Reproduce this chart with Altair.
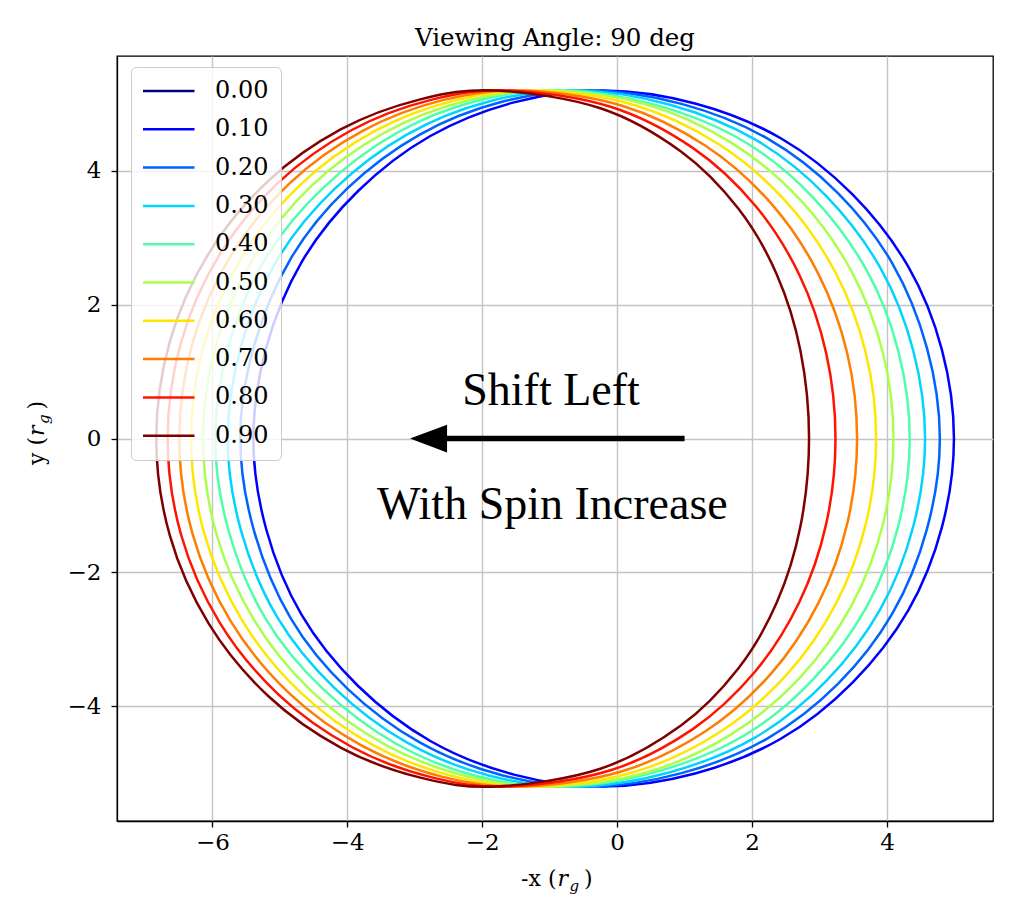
import altair as alt
import pandas as pd

# ---- legend / colour data ----
legend_spins = ["0.00", "0.10", "0.20", "0.30", "0.40", "0.50", "0.60", "0.70", "0.80", "0.90"]
jet_colors = ["#000080", "#0000ff", "#0063ff", "#00d4ff", "#4dffaa",
              "#aaff4d", "#ffe600", "#ff7d00", "#ff1400", "#800000"]

# ---- shadow contours: upper half, from right edge (y=0) over the top to left edge (y=0) ----
x_a010 = [4.993, 4.316, 2.426, -0.200, -2.769, -4.679, -5.393]
y_a010 = [0.0, 2.565, 4.483, 5.196, 4.516, 2.631, 0.0]
x_a020 = [4.784, 4.081, 2.225, -0.400, -2.926, -4.836, -5.586]
y_a020 = [0.0, 2.612, 4.481, 5.196, 4.538, 2.690, 0.0]
x_a030 = [4.565, 3.898, 2.056, -0.600, -3.112, -5.043, -5.773]
y_a030 = [0.0, 2.555, 4.458, 5.196, 4.542, 2.661, 0.0]
x_a040 = [4.338, 3.694, 1.876, -0.800, -3.282, -5.223, -5.958]
y_a040 = [0.0, 2.520, 4.438, 5.196, 4.554, 2.671, 0.0]
x_a050 = [4.096, 3.939, 3.474, 2.716, 1.690, 0.433, -1.000, -2.236, -3.446, -4.531, -5.392, -5.947, -6.138]
y_a050 = [0.0, 1.285, 2.496, 3.563, 4.418, 4.988, 5.196, 5.043, 4.568, 3.773, 2.694, 1.404, 0.0]
x_a060 = [3.839, 3.687, 3.238, 2.504, 1.501, 0.251, -1.200, -2.412, -3.610, -4.694, -5.561, -6.122, -6.316]
y_a060 = [0.0, 1.275, 2.476, 3.538, 4.397, 4.980, 5.196, 5.047, 4.581, 3.791, 2.712, 1.414, 0.0]
x_a070 = [3.557, 3.412, 2.983, 2.282, 1.310, 0.073, -1.400, -2.586, -3.772, -4.855, -5.727, -6.293, -6.491]
y_a070 = [0.0, 1.268, 2.458, 3.511, 4.372, 4.969, 5.196, 5.052, 4.593, 3.810, 2.731, 1.428, 0.0]
x_a080 = [3.237, 3.100, 2.700, 2.046, 1.121, -0.098, -1.600, -2.759, -3.933, -5.015, -5.892, -6.464, -6.663]
y_a080 = [0.0, 1.271, 2.446, 3.479, 4.339, 4.954, 5.196, 5.056, 4.606, 3.828, 2.748, 1.437, 0.0]
x_a090 = [2.845, 2.719, 2.368, 1.796, 0.946, -0.248, -1.800, -2.931, -4.092, -5.173, -6.054, -6.631, -6.832]
y_a090 = [0.0, 1.304, 2.446, 3.433, 4.285, 4.930, 5.196, 5.060, 4.618, 3.845, 2.765, 1.447, 0.0]

x_ticks = [-6, -4, -2, 0, 2, 4]
y_ticks = [-4, -2, 0, 2, 4]

# annotation arrow (data units)
arrow_tail_x = [1.0]
arrow_shaft_end_x = [-2.6]
arrow_tip_x = [-3.07]
arrow_y = [0.0]

series = [("0.10", x_a010, y_a010), ("0.20", x_a020, y_a020), ("0.30", x_a030, y_a030),
          ("0.40", x_a040, y_a040), ("0.50", x_a050, y_a050), ("0.60", x_a060, y_a060),
          ("0.70", x_a070, y_a070), ("0.80", x_a080, y_a080), ("0.90", x_a090, y_a090)]

rows = []
for spin, xs, ys in series:
    n = len(xs)
    for i in range(n):
        rows.append({"spin": spin, "k": i, "x": xs[i], "y": ys[i]})
    # mirrored lower half (the contour is symmetric about y = 0)
    for j, i in enumerate(range(n - 2, 0, -1)):
        rows.append({"spin": spin, "k": n + j, "x": xs[i], "y": -ys[i]})
df = pd.DataFrame(rows)

xscale = alt.Scale(domain=[-7.414, 5.572], nice=False, zero=False)
yscale = alt.Scale(domain=[-5.711, 5.711], nice=False, zero=False)

lines = alt.Chart(df).mark_line(interpolate="cardinal-closed", strokeWidth=2.5).encode(
    x=alt.X("x:Q", scale=xscale, axis=alt.Axis(values=x_ticks, format="d", title=None, grid=True)),
    y=alt.Y("y:Q", scale=yscale, axis=alt.Axis(values=y_ticks, format="d", title=None, grid=True)),
    color=alt.Color(
        "spin:N",
        scale=alt.Scale(domain=legend_spins, range=jet_colors),
        legend=alt.Legend(
            title=None, orient="none", legendX=14, legendY=11,
            fillColor="rgba(255,255,255,0.8)", strokeColor="#cccccc", cornerRadius=5,
            padding=12, symbolType="stroke", symbolSize=3025, symbolStrokeWidth=2.5,
            symbolOffset=-5, clipHeight=24, rowPadding=14.3,
            labelFont="DejaVu Serif", labelFontSize=24, labelOffset=19, labelColor="black",
        ),
    ),
    order="k:Q",
)

arrow_df = pd.DataFrame({"x0": arrow_tail_x, "x1": arrow_shaft_end_x, "y": arrow_y})
shaft = alt.Chart(arrow_df).mark_rule(color="black", strokeWidth=5.5, strokeCap="butt").encode(
    x="x0:Q", x2="x1:Q", y="y:Q"
)
head_df = pd.DataFrame({"x": arrow_tip_x, "y": arrow_y})
head = alt.Chart(head_df).mark_point(
    shape="M0,0L2,-0.75L2,0.75Z", filled=True, size=1369, color="black", opacity=1, strokeWidth=0
).encode(x="x:Q", y="y:Q")

ann_df = pd.DataFrame({"t": ["Shift Left", "With Spin Increase"], "x": [-0.98, -0.96], "y": [0.50, -1.20]})
ann = alt.Chart(ann_df).mark_text(
    font="Liberation Serif", fontSize=46, align="center", baseline="alphabetic", color="black"
).encode(x="x:Q", y="y:Q", text="t:N")


def label(s, x, y, size=22, style="normal", angle=0, align="left"):
    return alt.Chart(pd.DataFrame({"t": [s]})).mark_text(
        align=align, baseline="alphabetic", font="DejaVu Serif", fontSize=size,
        fontStyle=style, angle=angle, color="black"
    ).encode(text="t:N", x=alt.value(x), y=alt.value(y))


xl = [
    label("-x (", 439.5, 830, align="right"),
    label("r", 440.5, 830, style="italic"),
    label("g", 452.5, 835, size=15, style="italic"),
    label(")", 467, 830),
]
yl = [
    label("y (", -73.5, 381, angle=270, align="right"),
    label("r", -73.5, 380, style="italic", angle=270),
    label("g", -68.5, 368, size=15, style="italic", angle=270),
    label(")", -73.5, 353.5, angle=270),
]

chart = alt.layer(lines, shaft, head, ann, *xl, *yl).properties(
    width=876, height=765,
    autosize=alt.AutoSizeParams(type="none"),
    padding={"left": 109, "top": 48, "right": 20, "bottom": 80},
    title=alt.Title("Viewing Angle: 90 deg", font="DejaVu Serif", fontSize=24.5,
                    fontWeight="normal", color="black", offset=5),
).configure_view(stroke="black", strokeWidth=1.3).configure_axis(
    labelFont="DejaVu Serif", labelFontSize=23, labelColor="black",
    tickColor="black", tickSize=6, tickWidth=1.3,
    domainColor="black", domainWidth=1.3,
    gridColor="#c4c4c4", gridWidth=1.4,
).configure_axisX(labelPadding=4).configure_axisY(labelPadding=10)

chart.save("out.html", embed_options={"renderer": "svg", "actions": False})
